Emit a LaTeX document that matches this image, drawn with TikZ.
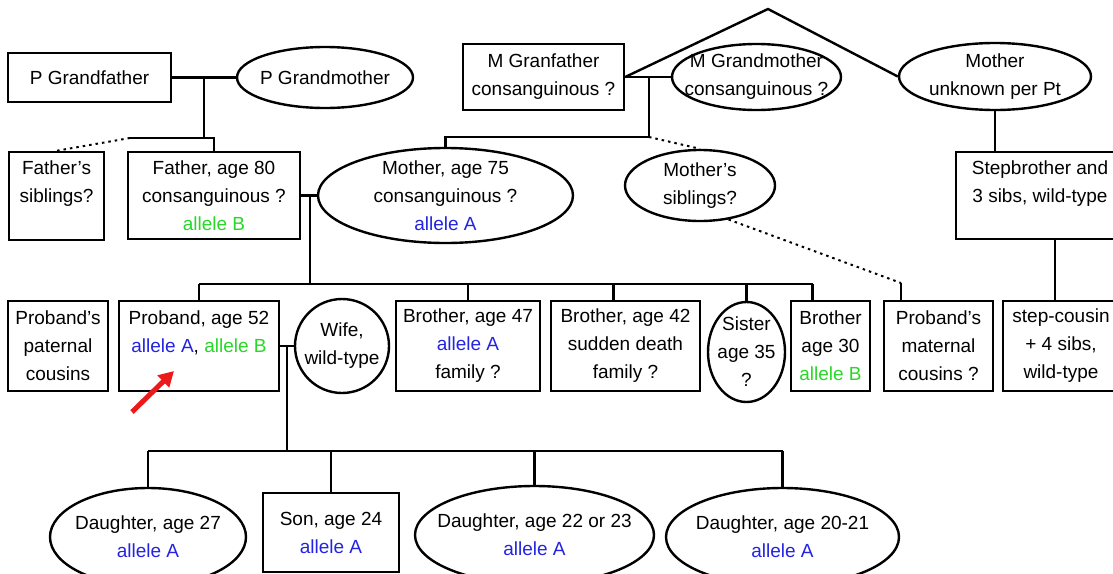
\documentclass[tikz,border=0pt]{standalone}
\usepackage{fontspec}
\setmainfont{Liberation Sans}
\usetikzlibrary{shapes.geometric,arrows.meta}
\definecolor{alleleA}{RGB}{35,35,225}
\definecolor{alleleB}{RGB}{40,215,40}
\definecolor{arrowred}{RGB}{235,25,25}
\begin{document}
\begin{tikzpicture}
		[x=1pt,y=-1pt,line width=2.4pt,
		every node/.style={font=\fontsize{19}{28}\selectfont,align=center},
		box/.style={draw,rectangle,inner sep=0pt},
		oval/.style={draw,ellipse,inner sep=-15pt},
		dotline/.style={line width=2pt,dash pattern=on 2.5pt off 4pt},]
		\useasboundingbox (0,0) rectangle (1113,573);
		\clip (0,0) rectangle (1113,573);
		\node[box,minimum width=163pt,minimum height=49pt](pgf) at (89.5,77.5){P Grandfather};
		\node[oval,minimum width=176pt,minimum height=61pt](pgm) at (325,77.5){P Grandmother};
		\node[box,minimum width=161pt,minimum height=66pt](mgf) at (543.5,77){M Granfather\\consanguinous ?};
		\node[oval,minimum width=169pt,minimum height=66pt](mgm) at (756.5,77){M Grandmother\\consanguinous ?};
		\node[oval,minimum width=192pt,minimum height=67pt](mu) at (995,76.5){Mother\\unknown per Pt};
		\node[box,minimum width=95pt,minimum height=88pt](fs) at (56.5,196){Father’s\\siblings?\\~};
		\node[box,minimum width=172pt,minimum height=87pt](fa) at (214,195.5){Father, age 80\\consanguinous ?\\\textcolor{alleleB}{allele B}};
		\node[oval,minimum width=255pt,minimum height=95pt](mo) at (445.5,195.5){Mother, age 75\\consanguinous ?\\\textcolor{alleleA}{allele A}};
		\node[oval,minimum width=150pt,minimum height=71pt](mos) at (700,185.5){Mother’s\\siblings?};
		\node[box,minimum width=168pt,minimum height=87pt](sb) at (1040,195.5){Stepbrother and\\3 sibs, wild-type\\~};
		\node[box,minimum width=100pt,minimum height=90pt](pc) at (58,346){Proband’s\\paternal\\cousins};
		\node[box,minimum width=160pt,minimum height=90pt](pb) at (199,346){Proband, age 52\\\textcolor{alleleA}{allele A}, \textcolor{alleleB}{allele B}\\~};
		\node[oval,minimum width=94pt,minimum height=94pt](wf) at (342,346){Wife,\\wild-type};
		\node[box,minimum width=144pt,minimum height=90pt](b47) at (468,346){Brother, age 47\\\textcolor{alleleA}{allele A}\\family ?};
		\node[box,minimum width=149pt,minimum height=90pt](b42) at (625.5,346){Brother, age 42\\sudden death\\family ?};
		\node[oval,minimum width=77pt,minimum height=100pt](ss) at (746.5,352){Sister\\age 35\\?};
		\node[box,minimum width=79pt,minimum height=90pt](b30) at (830.5,346){Brother\\age 30\\\textcolor{alleleB}{allele B}};
		\node[box,minimum width=109pt,minimum height=90pt](mc) at (938.5,346){Proband’s\\maternal\\cousins ?};
		\node[box,minimum width=116pt,minimum height=90pt](sc) at (1061,346){step-cousin\\+ 4 sibs,\\wild-type};
		\node[oval,minimum width=196pt,minimum height=98pt](d27) at (148,537){Daughter, age 27\\\textcolor{alleleA}{allele A}};
		\node[box,minimum width=136pt,minimum height=79pt](sn) at (331,532.5){Son, age 24\\\textcolor{alleleA}{allele A}};
		\node[oval,minimum width=239pt,minimum height=98pt](d22) at (534.5,535){Daughter, age 22 or 23\\\textcolor{alleleA}{allele A}};
		\node[oval,minimum width=233pt,minimum height=98pt](d20) at (782.5,537){Daughter, age 20-21\\\textcolor{alleleA}{allele A}};
		\coordinate (apex) at (768,9);
		\coordinate (pj) at (204,138);
		\coordinate (pk) at (130,138);
		\coordinate (mj) at (649,137);
		\coordinate (fj) at (310,284);
		\coordinate (cj) at (901,283);
		\coordinate (sj) at (1055,239);
		\coordinate (wj) at (287,451);
		\coordinate (ca) at (148,451);
		\coordinate (cb) at (783,451);
		\coordinate (ptail) at (132,412);
		\coordinate (phead) at (174,371);
		\draw (pgf) -- (pgm);
		\draw (pj |- pgf) -- (pj);
		\draw (pk) -| (fa.north);
		\draw[dotline] (pk) -- (fs.north);
		\draw (mgf.east) -- (apex) -- (mu.west);
		\draw (mgf) -- (mgm);
		\draw (mj |- mgf) -- (mj) -| (mo.north);
		\draw[dotline] (mj) -- (mos.north);
		\draw (mu.south) -- (mu.south |- sb.north);
		\draw[dotline] (mos.-50) -- (cj);
		\draw (cj) -- (cj |- mc.north);
		\draw (sj) -- (sj |- sc.north);
		\draw (fa) -- (mo);
		\draw (fj |- fa) -- (fj);
		\draw (pb.north |- fj) -- ([xshift=-18pt]b30.north |- fj);
		\foreach \k in {pb,b47,ss}
			\draw (\k.north) -- (\k.north |- fj);
		\foreach \k/\d in {b42/-12,b30/-18}
			\draw ([xshift=\d pt]\k.north) -- ([xshift=\d pt]\k.north |- fj);
		\draw (pb) -- (wf);
		\draw (wj |- pb) -- (wj);
		\draw (ca) -- (cb);
		\foreach \k in {d27,sn,d22,d20}
			\draw (\k.north) -- (\k.north |- ca);
		\draw[arrowred,line width=5pt,-{Triangle[length=15pt,width=16pt]}] (ptail) -- (phead);
	\end{tikzpicture}
\end{document}
